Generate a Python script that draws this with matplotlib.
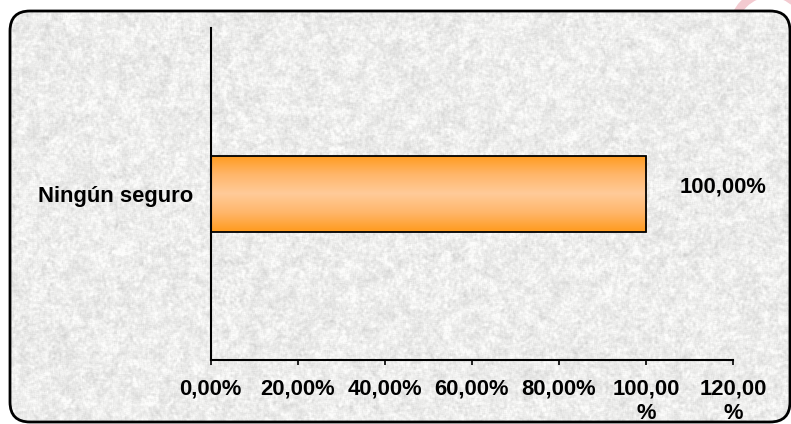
import numpy as np
import matplotlib
matplotlib.use("Agg")
import matplotlib.pyplot as plt
from matplotlib.patches import FancyBboxPatch, Arc
from matplotlib.colors import LinearSegmentedColormap

# ---- data -------------------------------------------------------------
categories = ["Ningún seguro"]
values = [100.00]                      # percent
x_ticks = [0, 20, 40, 60, 80, 100, 120]
x_tick_labels = ["0,00%", "20,00%", "40,00%", "60,00%", "80,00%",
                 "100,00\n%", "120,00\n%"]
value_labels = ["100,00%"]

# ---- figure -----------------------------------------------------------
W, H, DPI = 791, 424, 100
plt.rcParams["font.family"] = ["Liberation Sans", "DejaVu Sans"]
plt.rcParams["font.weight"] = "bold"
FS = 15.8

fig = plt.figure(figsize=(W / DPI, H / DPI), dpi=DPI, facecolor="white")

# backdrop layer in pixel coordinates
bg = fig.add_axes([0, 0, 1, 1], zorder=0)
bg.set_xlim(0, W)
bg.set_ylim(H, 0)
bg.axis("off")

# faint pink ring peeking out at the top right
bg.add_patch(Arc((770, 30), 74, 74, theta1=0, theta2=360,
                 lw=6, color="#f3cad0", zorder=0))

# textured stone-like fill inside a rounded frame
rng = np.random.default_rng(7)
def smooth(a, k):
    ker = np.ones(k) / k
    a = np.apply_along_axis(lambda r: np.convolve(r, ker, mode="same"), 1, a)
    a = np.apply_along_axis(lambda c: np.convolve(c, ker, mode="same"), 0, a)
    return a
fine = smooth(rng.normal(size=(H, W)), 3)
coarse = smooth(rng.normal(size=(H, W)), 9)
tex = fine / fine.std() * 0.022 + coarse / coarse.std() * 0.016
tex = np.clip(0.93 + tex, 0.80, 0.99)
tex_rgb = np.dstack([tex, tex, tex * 0.995])

frame = FancyBboxPatch((10 + 20, 11 + 20), 780 - 40, 411 - 40,
                       boxstyle="round,pad=20", facecolor="none",
                       edgecolor="black", lw=2.0, zorder=3)
img = bg.imshow(tex_rgb, extent=[0, W, H, 0], zorder=2, interpolation="bilinear")
fill = FancyBboxPatch((10 + 20, 11 + 20), 780 - 40, 411 - 40,
                      boxstyle="round,pad=20", facecolor="#ebebeb",
                      edgecolor="none", zorder=1)
bg.add_patch(fill)
img.set_clip_path(fill)
bg.add_patch(frame)

# ---- chart axes -------------------------------------------------------
left, right = 210.7 / W, 733.0 / W
bottom, top = 1 - 360 / H, 1 - 28 / H
ax = fig.add_axes([left, bottom, right - left, top - bottom], zorder=2)
ax.patch.set_alpha(0)

bars = ax.barh(categories, values, height=0.23, facecolor="none",
               edgecolor="black", linewidth=1.3, zorder=3)

# orange cylinder-style gradient inside each bar
grad_cmap = LinearSegmentedColormap.from_list(
    "orange_band", ["#ff9a1c", "#ffb66a", "#ffcb99", "#ffb66a", "#ff9a1c"])
grad = np.linspace(0, 1, 256).reshape(-1, 1)
for b in bars:
    x0, y0 = b.get_x(), b.get_y()
    g = ax.imshow(grad, cmap=grad_cmap, aspect="auto", zorder=2,
                  extent=[x0, x0 + b.get_width(), y0, y0 + b.get_height()])
    g.set_clip_path(b)

for b, lab in zip(bars, value_labels):
    ax.annotate(lab, xy=(b.get_width(), b.get_y() + b.get_height() / 2),
                xytext=(24.5, 5), textcoords="offset points",
                ha="left", va="center", fontsize=FS, fontweight="bold")

ax.set_xlim(0, 120)
ax.set_ylim(-0.5, 0.5)
ax.set_xticks(x_ticks)
ax.set_xticklabels(x_tick_labels, fontsize=FS, fontweight="bold",
                   linespacing=1.25)
ax.tick_params(axis="x", direction="out", length=3.8, width=1.2, pad=9.5)
ax.tick_params(axis="y", length=0, pad=12.5, labelsize=FS)
for t in ax.get_yticklabels():
    t.set_fontweight("bold")

for s in ("top", "right"):
    ax.spines[s].set_visible(False)
for s in ("left", "bottom"):
    ax.spines[s].set_linewidth(1.5)
    ax.spines[s].set_color("black")

fig.savefig("out.png", dpi=DPI, facecolor="white")
